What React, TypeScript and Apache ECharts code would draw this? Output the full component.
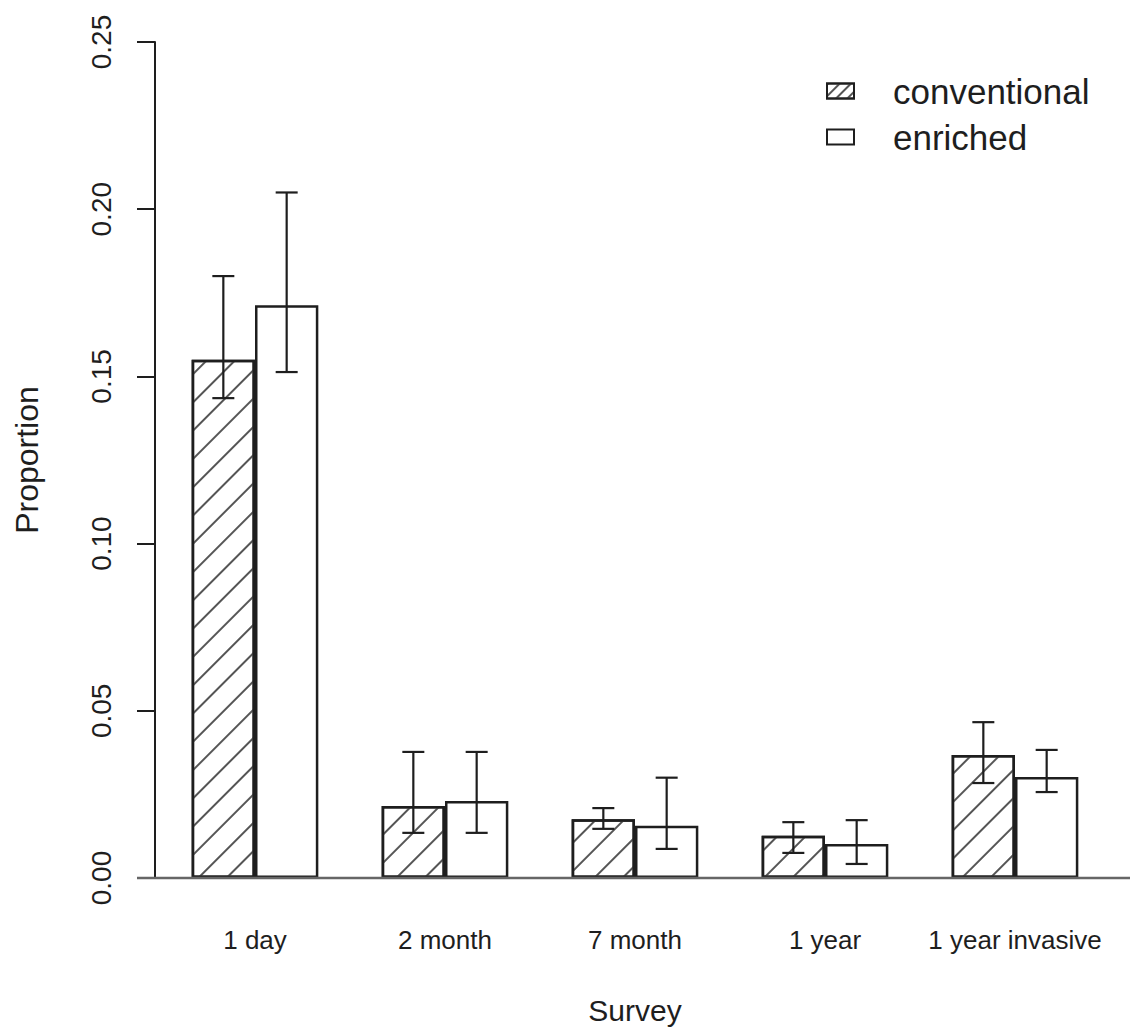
import React, { useEffect, useRef } from "react";
import * as echarts from "echarts";

const categories = ["1 day", "2 month", "7 month", "1 year", "1 year invasive"];
const conventional = [0.155, 0.0215, 0.0176, 0.0126, 0.0368];
const conventionalLower = [0.1435, 0.0135, 0.0147, 0.0075, 0.0284];
const conventionalUpper = [0.18, 0.0377, 0.0209, 0.0167, 0.0466];
const enriched = [0.1713, 0.023, 0.0156, 0.0102, 0.0302];
const enrichedLower = [0.1513, 0.0135, 0.0087, 0.0042, 0.0257];
const enrichedUpper = [0.205, 0.0377, 0.03, 0.0173, 0.0383];
const yTicks = { min: 0, max: 0.25, interval: 0.05 };

const FONT = "'Liberation Sans', Arial, sans-serif";
const INK = "#1e1e1e";

const hatch = (gap: number) => ({
  symbol: "rect",
  symbolSize: 1,
  color: "#555",
  dashArrayX: [1, 0],
  dashArrayY: [1.3, gap],
  rotation: -Math.PI / 4,
});

function errorSeries(name: string, lower: number[], upper: number[], side: number) {
  return {
    type: "custom",
    name,
    z: 10,
    data: lower.map((lo, i) => [i, lo, upper[i]]),
    encode: { x: 0, y: [1, 2] },
    renderItem: (params: any, api: any) => {
      const i = api.value(0);
      const pLo = api.coord([i, api.value(1)]);
      const pHi = api.coord([i, api.value(2)]);
      const band = api.size([1, 0])[0];
      const x = pLo[0] + (side * band) / 6;
      const cap = 11;
      const st = { stroke: INK, lineWidth: 2.2 };
      return {
        type: "group",
        children: [
          { type: "line", shape: { x1: x, y1: pLo[1], x2: x, y2: pHi[1] }, style: st },
          { type: "line", shape: { x1: x - cap, y1: pHi[1], x2: x + cap, y2: pHi[1] }, style: st },
          { type: "line", shape: { x1: x - cap, y1: pLo[1], x2: x + cap, y2: pLo[1] }, style: st },
        ],
      };
    },
  };
}

export default function App() {
  const ref = useRef<HTMLDivElement>(null);
  useEffect(() => {
    document.body.style.margin = "0";
    const chart = echarts.init(ref.current!, null, { renderer: "svg" });
    const barStyle = { color: "#ffffff", borderColor: INK, borderWidth: 2.5 };
    chart.setOption({
      animation: false,
      backgroundColor: "#ffffff",
      textStyle: { fontFamily: FONT },
      grid: { left: 160, top: 42, width: 950, height: 836 },
      legend: {
        orient: "vertical",
        left: 826,
        top: 72,
        padding: 0,
        itemWidth: 27,
        itemHeight: 15,
        itemGap: 8,
        icon: "rect",
        textStyle: {
          fontFamily: FONT,
          fontSize: 35,
          color: INK,
          padding: [0, 0, 0, 34],
          lineHeight: 38,
        },
        data: [
          { name: "conventional", itemStyle: { decal: hatch(5.5) } },
          { name: "enriched" },
        ],
      },
      xAxis: {
        type: "category",
        data: categories,
        name: "Survey",
        nameLocation: "middle",
        nameGap: 117,
        nameTextStyle: { fontFamily: FONT, fontSize: 30, color: INK },
        axisLine: { show: false },
        axisTick: { show: false },
        axisLabel: { margin: 49, fontSize: 26, color: INK, fontFamily: FONT, interval: 0 },
      },
      yAxis: {
        type: "value",
        min: yTicks.min,
        max: yTicks.max,
        interval: yTicks.interval,
        offset: 5,
        name: "Proportion",
        nameLocation: "middle",
        nameGap: 112,
        nameTextStyle: { fontFamily: FONT, fontSize: 32, color: INK },
        axisLine: { show: true, lineStyle: { color: INK, width: 2 } },
        axisTick: { show: true, length: 18, lineStyle: { color: INK, width: 2 } },
        splitLine: { show: false },
        axisLabel: {
          rotate: 90,
          margin: 40,
          fontSize: 28,
          color: INK,
          fontFamily: FONT,
          formatter: (v: number) => v.toFixed(2),
        },
      },
      series: [
        {
          type: "bar",
          name: "conventional",
          data: conventional,
          barWidth: "33.33%",
          barGap: "0%",
          itemStyle: { ...barStyle, decal: hatch(18) },
        },
        {
          type: "bar",
          name: "enriched",
          data: enriched,
          barWidth: "33.33%",
          barGap: "0%",
          itemStyle: { ...barStyle },
        },
        errorSeries("conventional CI", conventionalLower, conventionalUpper, -1),
        errorSeries("enriched CI", enrichedLower, enrichedUpper, 1),
      ],
    });
    const y0 = chart.convertToPixel({ yAxisIndex: 0 }, 0) as number;
    chart.setOption({
      graphic: [
        {
          type: "line",
          z: 5,
          shape: { x1: 137, y1: y0, x2: 1130, y2: y0 },
          style: { stroke: "#666", lineWidth: 2.5 },
        },
      ],
    });
    return () => chart.dispose();
  }, []);
  return <div ref={ref} style={{ width: 1133, height: 1034 }} />;
}
